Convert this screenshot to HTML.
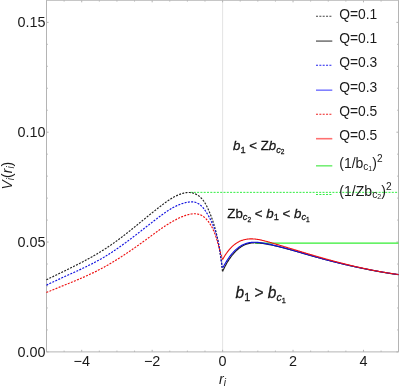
<!DOCTYPE html>
<html><head><meta charset="utf-8"><title>plot</title>
<style>
html,body{margin:0;padding:0;background:#fff;}
body{width:399px;height:387px;overflow:hidden;}
svg{display:block;will-change:transform;}
text{font-family:"Liberation Sans",sans-serif;fill:#1a1a1a;}
.it{font-style:italic;}
.an{stroke:#111;stroke-width:0.26px;}
</style></head><body>
<svg width="399" height="387" viewBox="0 0 399 387">
<rect width="399" height="387" fill="#fff"/>

<line x1="222.6" y1="0.25" x2="222.6" y2="351.9" stroke="#e0e0e0" stroke-width="0.9"/>
<g stroke="#b4b4b4" stroke-width="1" fill="none">
<path d="M46.5,0.25 L46.5,351.9 L398.5,351.9 L398.5,0.25 Z"/>
<line x1="46.50" y1="351.9" x2="46.50" y2="350.60"/>
<line x1="46.50" y1="0.25" x2="46.50" y2="1.55"/>
<line x1="64.11" y1="351.9" x2="64.11" y2="350.60"/>
<line x1="64.11" y1="0.25" x2="64.11" y2="1.55"/>
<line x1="81.72" y1="351.9" x2="81.72" y2="349.80"/>
<line x1="81.72" y1="0.25" x2="81.72" y2="2.35"/>
<line x1="99.33" y1="351.9" x2="99.33" y2="350.60"/>
<line x1="99.33" y1="0.25" x2="99.33" y2="1.55"/>
<line x1="116.94" y1="351.9" x2="116.94" y2="350.60"/>
<line x1="116.94" y1="0.25" x2="116.94" y2="1.55"/>
<line x1="134.55" y1="351.9" x2="134.55" y2="350.60"/>
<line x1="134.55" y1="0.25" x2="134.55" y2="1.55"/>
<line x1="152.16" y1="351.9" x2="152.16" y2="349.80"/>
<line x1="152.16" y1="0.25" x2="152.16" y2="2.35"/>
<line x1="169.77" y1="351.9" x2="169.77" y2="350.60"/>
<line x1="169.77" y1="0.25" x2="169.77" y2="1.55"/>
<line x1="187.38" y1="351.9" x2="187.38" y2="350.60"/>
<line x1="187.38" y1="0.25" x2="187.38" y2="1.55"/>
<line x1="204.99" y1="351.9" x2="204.99" y2="350.60"/>
<line x1="204.99" y1="0.25" x2="204.99" y2="1.55"/>
<line x1="222.60" y1="351.9" x2="222.60" y2="349.80"/>
<line x1="222.60" y1="0.25" x2="222.60" y2="2.35"/>
<line x1="240.21" y1="351.9" x2="240.21" y2="350.60"/>
<line x1="240.21" y1="0.25" x2="240.21" y2="1.55"/>
<line x1="257.82" y1="351.9" x2="257.82" y2="350.60"/>
<line x1="257.82" y1="0.25" x2="257.82" y2="1.55"/>
<line x1="275.43" y1="351.9" x2="275.43" y2="350.60"/>
<line x1="275.43" y1="0.25" x2="275.43" y2="1.55"/>
<line x1="293.04" y1="351.9" x2="293.04" y2="349.80"/>
<line x1="293.04" y1="0.25" x2="293.04" y2="2.35"/>
<line x1="310.65" y1="351.9" x2="310.65" y2="350.60"/>
<line x1="310.65" y1="0.25" x2="310.65" y2="1.55"/>
<line x1="328.26" y1="351.9" x2="328.26" y2="350.60"/>
<line x1="328.26" y1="0.25" x2="328.26" y2="1.55"/>
<line x1="345.87" y1="351.9" x2="345.87" y2="350.60"/>
<line x1="345.87" y1="0.25" x2="345.87" y2="1.55"/>
<line x1="363.48" y1="351.9" x2="363.48" y2="349.80"/>
<line x1="363.48" y1="0.25" x2="363.48" y2="2.35"/>
<line x1="381.09" y1="351.9" x2="381.09" y2="350.60"/>
<line x1="381.09" y1="0.25" x2="381.09" y2="1.55"/>
<line x1="398.70" y1="351.9" x2="398.70" y2="350.60"/>
<line x1="398.70" y1="0.25" x2="398.70" y2="1.55"/>
<line x1="46.5" y1="351.90" x2="48.60" y2="351.90"/>
<line x1="398.5" y1="351.90" x2="396.40" y2="351.90"/>
<line x1="46.5" y1="329.93" x2="47.80" y2="329.93"/>
<line x1="398.5" y1="329.93" x2="397.20" y2="329.93"/>
<line x1="46.5" y1="307.96" x2="47.80" y2="307.96"/>
<line x1="398.5" y1="307.96" x2="397.20" y2="307.96"/>
<line x1="46.5" y1="285.99" x2="47.80" y2="285.99"/>
<line x1="398.5" y1="285.99" x2="397.20" y2="285.99"/>
<line x1="46.5" y1="264.02" x2="47.80" y2="264.02"/>
<line x1="398.5" y1="264.02" x2="397.20" y2="264.02"/>
<line x1="46.5" y1="242.05" x2="48.60" y2="242.05"/>
<line x1="398.5" y1="242.05" x2="396.40" y2="242.05"/>
<line x1="46.5" y1="220.08" x2="47.80" y2="220.08"/>
<line x1="398.5" y1="220.08" x2="397.20" y2="220.08"/>
<line x1="46.5" y1="198.11" x2="47.80" y2="198.11"/>
<line x1="398.5" y1="198.11" x2="397.20" y2="198.11"/>
<line x1="46.5" y1="176.14" x2="47.80" y2="176.14"/>
<line x1="398.5" y1="176.14" x2="397.20" y2="176.14"/>
<line x1="46.5" y1="154.17" x2="47.80" y2="154.17"/>
<line x1="398.5" y1="154.17" x2="397.20" y2="154.17"/>
<line x1="46.5" y1="132.20" x2="48.60" y2="132.20"/>
<line x1="398.5" y1="132.20" x2="396.40" y2="132.20"/>
<line x1="46.5" y1="110.23" x2="47.80" y2="110.23"/>
<line x1="398.5" y1="110.23" x2="397.20" y2="110.23"/>
<line x1="46.5" y1="88.26" x2="47.80" y2="88.26"/>
<line x1="398.5" y1="88.26" x2="397.20" y2="88.26"/>
<line x1="46.5" y1="66.29" x2="47.80" y2="66.29"/>
<line x1="398.5" y1="66.29" x2="397.20" y2="66.29"/>
<line x1="46.5" y1="44.32" x2="47.80" y2="44.32"/>
<line x1="398.5" y1="44.32" x2="397.20" y2="44.32"/>
<line x1="46.5" y1="22.35" x2="48.60" y2="22.35"/>
<line x1="398.5" y1="22.35" x2="396.40" y2="22.35"/>
</g>
<text x="45.5" y="357.00" font-size="14.4" text-anchor="end">0.00</text>
<text x="45.5" y="247.15" font-size="14.4" text-anchor="end">0.05</text>
<text x="45.5" y="137.30" font-size="14.4" text-anchor="end">0.10</text>
<text x="45.5" y="27.45" font-size="14.4" text-anchor="end">0.15</text>
<text x="81.72" y="365.8" font-size="14.4" text-anchor="middle">−4</text>
<text x="152.16" y="365.8" font-size="14.4" text-anchor="middle">−2</text>
<text x="222.60" y="365.8" font-size="14.4" text-anchor="middle">0</text>
<text x="293.04" y="365.8" font-size="14.4" text-anchor="middle">2</text>
<text x="363.48" y="365.8" font-size="14.4" text-anchor="middle">4</text>
<line x1="255" y1="243.15" x2="398.5" y2="243.15" stroke="#33ee33" stroke-width="1.3"/>
<line x1="190.5" y1="192.35" x2="398.5" y2="192.35" stroke="#30ee40" stroke-width="1.0" stroke-dasharray="2,1.3"/>
<g fill="none" stroke-width="1.15" stroke-linejoin="round">
<path d="M46.40,279.79 L46.98,279.50 L47.56,279.21 L48.14,278.93 L48.73,278.65 L49.31,278.36 L49.89,278.08 L50.48,277.79 L51.06,277.51 L51.64,277.22 L52.23,276.94 L52.81,276.66 L53.40,276.37 L53.98,276.09 L54.57,275.81 L55.15,275.52 L55.74,275.24 L56.32,274.96 L56.91,274.67 L57.49,274.39 L58.08,274.11 L58.67,273.82 L59.25,273.54 L59.84,273.25 L60.43,272.97 L61.01,272.69 L61.60,272.40 L62.19,272.12 L62.77,271.83 L63.36,271.55 L63.95,271.26 L64.53,270.98 L65.12,270.69 L65.71,270.40 L66.29,270.12 L66.88,269.83 L67.46,269.54 L68.05,269.26 L68.64,268.97 L69.22,268.68 L69.81,268.39 L70.39,268.10 L70.98,267.81 L71.56,267.52 L72.15,267.23 L72.73,266.94 L73.32,266.65 L73.90,266.35 L74.49,266.06 L75.07,265.77 L75.65,265.47 L76.23,265.18 L76.82,264.88 L77.40,264.59 L77.98,264.29 L78.56,263.99 L79.14,263.69 L79.72,263.39 L80.30,263.09 L80.88,262.79 L81.46,262.49 L82.04,262.19 L82.62,261.89 L83.20,261.58 L83.77,261.28 L84.35,260.97 L84.93,260.67 L85.50,260.36 L86.08,260.05 L86.65,259.74 L87.23,259.43 L87.80,259.12 L88.37,258.80 L88.94,258.49 L89.51,258.18 L90.09,257.86 L90.65,257.54 L91.22,257.23 L91.79,256.91 L92.36,256.59 L92.93,256.26 L93.49,255.94 L94.06,255.62 L94.62,255.29 L95.19,254.97 L95.75,254.64 L96.31,254.31 L96.87,253.98 L97.43,253.65 L97.99,253.32 L98.55,252.98 L99.11,252.65 L99.66,252.31 L100.22,251.97 L100.77,251.63 L101.33,251.29 L101.88,250.95 L102.43,250.60 L102.98,250.26 L103.53,249.91 L104.08,249.56 L104.63,249.21 L105.17,248.86 L105.72,248.51 L106.26,248.15 L106.81,247.79 L107.35,247.44 L107.89,247.08 L108.43,246.71 L108.97,246.35 L109.50,245.99 L110.04,245.62 L110.58,245.25 L111.11,244.88 L111.64,244.51 L112.18,244.14 L112.71,243.77 L113.24,243.39 L113.77,243.02 L114.30,242.64 L114.82,242.26 L115.35,241.88 L115.88,241.50 L116.40,241.12 L116.93,240.74 L117.45,240.35 L117.97,239.97 L118.49,239.58 L119.02,239.19 L119.54,238.80 L120.06,238.41 L120.58,238.02 L121.09,237.63 L121.61,237.24 L122.13,236.84 L122.65,236.45 L123.16,236.05 L123.68,235.65 L124.19,235.26 L124.71,234.86 L125.22,234.46 L125.73,234.06 L126.25,233.66 L126.76,233.26 L127.27,232.85 L127.78,232.45 L128.29,232.05 L128.80,231.64 L129.31,231.24 L129.82,230.83 L130.33,230.43 L130.84,230.02 L131.35,229.61 L131.86,229.21 L132.37,228.80 L132.87,228.39 L133.38,227.98 L133.89,227.57 L134.40,227.16 L134.90,226.75 L135.41,226.34 L135.92,225.93 L136.42,225.52 L136.93,225.11 L137.43,224.70 L137.94,224.29 L138.45,223.87 L138.95,223.46 L139.46,223.05 L139.96,222.64 L140.47,222.23 L140.97,221.81 L141.48,221.40 L141.99,220.99 L142.49,220.58 L143.00,220.16 L143.50,219.75 L144.01,219.34 L144.52,218.93 L145.02,218.51 L145.53,218.10 L146.03,217.69 L146.54,217.28 L147.05,216.87 L147.56,216.46 L148.06,216.05 L148.57,215.63 L149.08,215.22 L149.59,214.81 L150.10,214.40 L150.60,214.00 L151.11,213.59 L151.62,213.18 L152.13,212.77 L152.64,212.36 L153.15,211.96 L153.67,211.55 L154.18,211.14 L154.69,210.74 L155.20,210.33 L155.72,209.93 L156.23,209.53 L156.74,209.12 L157.26,208.72 L157.77,208.32 L158.29,207.92 L158.81,207.52 L159.32,207.12 L159.84,206.72 L160.36,206.32 L160.88,205.93 L161.40,205.53 L161.92,205.14 L162.44,204.74 L162.96,204.35 L163.48,203.96 L164.01,203.57 L164.53,203.18 L165.06,202.79 L165.59,202.41 L166.12,202.03 L166.65,201.65 L167.18,201.27 L167.72,200.90 L168.26,200.53 L168.80,200.17 L169.34,199.81 L169.89,199.45 L170.44,199.10 L170.99,198.76 L171.55,198.42 L172.11,198.08 L172.67,197.75 L173.24,197.43 L173.81,197.11 L174.39,196.80 L174.97,196.50 L175.55,196.20 L176.14,195.91 L176.73,195.63 L177.33,195.36 L177.94,195.09 L178.55,194.84 L179.16,194.59 L179.78,194.35 L180.40,194.12 L181.03,193.91 L181.66,193.70 L182.30,193.51 L182.93,193.34 L183.57,193.17 L184.21,193.03 L184.85,192.90 L185.49,192.78 L186.13,192.69 L186.77,192.61 L187.41,192.55 L188.04,192.52 L188.68,192.50 L189.31,192.51 L189.93,192.54 L190.56,192.59 L191.17,192.67 L191.79,192.77 L192.40,192.90 L193.00,193.04 L193.59,193.21 L194.18,193.41 L194.76,193.62 L195.34,193.86 L195.90,194.12 L196.46,194.40 L197.00,194.70 L197.54,195.02 L198.06,195.36 L198.58,195.72 L199.08,196.10 L199.57,196.50 L200.05,196.92 L200.52,197.35 L200.98,197.80 L201.43,198.27 L201.86,198.74 L202.28,199.24 L202.69,199.74 L203.10,200.25 L203.49,200.78 L203.87,201.31 L204.23,201.86 L204.59,202.41 L204.94,202.96 L205.28,203.53 L205.62,204.10 L205.94,204.68 L206.26,205.26 L206.56,205.85 L206.87,206.44 L207.16,207.04 L207.45,207.64 L207.74,208.24 L208.02,208.84 L208.29,209.45 L208.56,210.05 L208.83,210.66 L209.10,211.27 L209.36,211.88 L209.61,212.49 L209.86,213.10 L210.11,213.71 L210.36,214.32 L210.60,214.93 L210.84,215.54 L211.07,216.15 L211.31,216.77 L211.53,217.38 L211.76,218.00 L211.98,218.61 L212.20,219.23 L212.41,219.84 L212.63,220.46 L212.84,221.08 L213.04,221.70 L213.24,222.32 L213.44,222.94 L213.64,223.56 L213.83,224.18 L214.02,224.80 L214.21,225.42 L214.40,226.04 L214.58,226.67 L214.76,227.29 L214.93,227.91 L215.11,228.54 L215.28,229.17 L215.45,229.79 L215.61,230.42 L215.78,231.04 L215.94,231.67 L216.10,232.30 L216.25,232.93 L216.41,233.56 L216.56,234.19 L216.70,234.82 L216.85,235.45 L217.00,236.08 L217.14,236.71 L217.28,237.34 L217.41,237.98 L217.55,238.61 L217.68,239.24 L217.81,239.88 L217.94,240.51 L218.07,241.15 L218.20,241.78 L218.32,242.42 L218.44,243.05 L218.56,243.69 L218.68,244.33 L218.79,244.96 L218.91,245.60 L219.02,246.24 L219.13,246.88 L219.24,247.52 L219.35,248.16 L219.46,248.80 L219.56,249.44 L219.66,250.08 L219.77,250.72 L219.87,251.36 L219.97,252.00 L220.06,252.64 L220.16,253.29 L220.26,253.93 L220.35,254.57 L220.44,255.22 L220.54,255.86 L220.63,256.50 L220.72,257.15 L220.80,257.79 L220.89,258.44 L220.98,259.08 L221.07,259.73 L221.15,260.38 L221.23,261.02 L221.32,261.67 L221.40,262.32 L221.48,262.96 L221.56,263.61 L221.65,264.26 L221.73,264.91 L221.80,265.55 L221.88,266.20 L221.96,266.85 L222.04,267.50 L222.12,268.15 L222.19,268.80 L222.27,269.45 L222.35,270.10 L222.42,270.75 L222.50,271.40" stroke="#222" stroke-dasharray="2,1.3"/>
<path d="M46.40,285.18 L46.95,284.91 L47.50,284.64 L48.04,284.37 L48.59,284.10 L49.14,283.83 L49.69,283.57 L50.25,283.30 L50.80,283.03 L51.35,282.77 L51.91,282.51 L52.46,282.24 L53.01,281.98 L53.57,281.72 L54.13,281.46 L54.68,281.20 L55.24,280.94 L55.80,280.68 L56.35,280.42 L56.91,280.16 L57.47,279.90 L58.03,279.64 L58.59,279.39 L59.15,279.13 L59.71,278.87 L60.27,278.62 L60.83,278.36 L61.39,278.11 L61.96,277.85 L62.52,277.59 L63.08,277.34 L63.64,277.08 L64.21,276.83 L64.77,276.57 L65.33,276.32 L65.89,276.06 L66.46,275.81 L67.02,275.55 L67.58,275.30 L68.15,275.04 L68.71,274.79 L69.28,274.53 L69.84,274.28 L70.40,274.02 L70.97,273.77 L71.53,273.51 L72.09,273.26 L72.66,273.00 L73.22,272.74 L73.78,272.49 L74.35,272.23 L74.91,271.97 L75.47,271.71 L76.04,271.45 L76.60,271.20 L77.16,270.94 L77.72,270.68 L78.28,270.42 L78.85,270.15 L79.41,269.89 L79.97,269.63 L80.53,269.37 L81.09,269.11 L81.65,268.84 L82.21,268.58 L82.77,268.31 L83.33,268.05 L83.88,267.78 L84.44,267.51 L85.00,267.24 L85.55,266.97 L86.11,266.70 L86.67,266.43 L87.22,266.16 L87.78,265.89 L88.33,265.61 L88.88,265.34 L89.44,265.06 L89.99,264.79 L90.54,264.51 L91.09,264.23 L91.64,263.95 L92.19,263.67 L92.74,263.38 L93.28,263.10 L93.83,262.82 L94.38,262.53 L94.92,262.24 L95.47,261.95 L96.01,261.66 L96.55,261.37 L97.09,261.08 L97.63,260.78 L98.17,260.49 L98.71,260.19 L99.25,259.89 L99.79,259.59 L100.32,259.29 L100.86,258.99 L101.39,258.68 L101.92,258.38 L102.46,258.07 L102.99,257.76 L103.52,257.45 L104.04,257.13 L104.57,256.82 L105.10,256.50 L105.62,256.19 L106.15,255.87 L106.67,255.55 L107.19,255.22 L107.71,254.90 L108.23,254.57 L108.75,254.25 L109.27,253.92 L109.79,253.59 L110.30,253.26 L110.82,252.93 L111.33,252.59 L111.85,252.26 L112.36,251.92 L112.87,251.59 L113.38,251.25 L113.89,250.91 L114.40,250.57 L114.91,250.22 L115.42,249.88 L115.93,249.53 L116.44,249.19 L116.94,248.84 L117.45,248.49 L117.95,248.14 L118.45,247.79 L118.96,247.44 L119.46,247.09 L119.96,246.74 L120.46,246.38 L120.96,246.03 L121.46,245.67 L121.96,245.31 L122.46,244.95 L122.96,244.59 L123.46,244.23 L123.95,243.87 L124.45,243.51 L124.95,243.15 L125.44,242.78 L125.94,242.42 L126.43,242.05 L126.93,241.69 L127.42,241.32 L127.92,240.95 L128.41,240.59 L128.90,240.22 L129.39,239.85 L129.89,239.48 L130.38,239.11 L130.87,238.74 L131.36,238.36 L131.85,237.99 L132.34,237.62 L132.83,237.24 L133.32,236.87 L133.81,236.50 L134.30,236.12 L134.79,235.75 L135.28,235.37 L135.77,234.99 L136.26,234.62 L136.74,234.24 L137.23,233.86 L137.72,233.48 L138.21,233.11 L138.70,232.73 L139.18,232.35 L139.67,231.97 L140.16,231.59 L140.65,231.21 L141.14,230.83 L141.62,230.45 L142.11,230.07 L142.60,229.69 L143.09,229.31 L143.58,228.93 L144.06,228.55 L144.55,228.17 L145.04,227.79 L145.53,227.41 L146.02,227.03 L146.50,226.65 L146.99,226.27 L147.48,225.89 L147.97,225.50 L148.46,225.12 L148.95,224.74 L149.44,224.36 L149.93,223.98 L150.42,223.60 L150.91,223.22 L151.40,222.84 L151.89,222.46 L152.38,222.09 L152.87,221.71 L153.36,221.33 L153.86,220.95 L154.35,220.57 L154.84,220.19 L155.34,219.82 L155.83,219.44 L156.32,219.06 L156.82,218.69 L157.31,218.31 L157.81,217.94 L158.30,217.56 L158.80,217.19 L159.30,216.81 L159.80,216.44 L160.29,216.07 L160.79,215.70 L161.29,215.33 L161.79,214.96 L162.29,214.59 L162.80,214.23 L163.30,213.86 L163.81,213.50 L164.31,213.14 L164.82,212.79 L165.33,212.43 L165.84,212.08 L166.35,211.73 L166.86,211.39 L167.37,211.05 L167.89,210.71 L168.41,210.37 L168.93,210.04 L169.45,209.71 L169.97,209.39 L170.50,209.07 L171.02,208.76 L171.55,208.45 L172.08,208.14 L172.61,207.84 L173.15,207.54 L173.69,207.25 L174.23,206.97 L174.77,206.69 L175.32,206.42 L175.86,206.15 L176.41,205.89 L176.97,205.63 L177.52,205.38 L178.08,205.14 L178.64,204.90 L179.21,204.67 L179.77,204.45 L180.34,204.24 L180.92,204.03 L181.49,203.83 L182.07,203.63 L182.66,203.45 L183.24,203.27 L183.83,203.10 L184.43,202.94 L185.02,202.79 L185.62,202.65 L186.23,202.51 L186.84,202.39 L187.45,202.27 L188.06,202.17 L188.68,202.08 L189.29,202.00 L189.91,201.94 L190.52,201.90 L191.13,201.87 L191.74,201.86 L192.34,201.88 L192.94,201.91 L193.53,201.97 L194.12,202.06 L194.70,202.17 L195.27,202.31 L195.83,202.47 L196.38,202.66 L196.92,202.88 L197.46,203.12 L197.98,203.39 L198.49,203.68 L198.99,203.99 L199.48,204.32 L199.96,204.68 L200.42,205.06 L200.88,205.46 L201.32,205.87 L201.76,206.31 L202.18,206.75 L202.60,207.22 L203.01,207.69 L203.41,208.18 L203.80,208.68 L204.18,209.18 L204.56,209.70 L204.93,210.21 L205.29,210.74 L205.65,211.27 L206.00,211.79 L206.34,212.33 L206.68,212.86 L207.02,213.39 L207.35,213.93 L207.67,214.47 L207.99,215.01 L208.31,215.55 L208.62,216.09 L208.92,216.64 L209.22,217.18 L209.51,217.73 L209.80,218.28 L210.09,218.83 L210.37,219.39 L210.64,219.94 L210.91,220.50 L211.18,221.05 L211.44,221.61 L211.70,222.17 L211.95,222.73 L212.20,223.30 L212.44,223.86 L212.68,224.43 L212.92,225.00 L213.15,225.56 L213.37,226.13 L213.60,226.71 L213.82,227.28 L214.03,227.85 L214.24,228.43 L214.45,229.00 L214.65,229.58 L214.85,230.16 L215.05,230.74 L215.24,231.32 L215.43,231.90 L215.61,232.49 L215.80,233.07 L215.97,233.66 L216.15,234.24 L216.32,234.83 L216.49,235.42 L216.66,236.01 L216.82,236.60 L216.98,237.19 L217.13,237.78 L217.29,238.37 L217.44,238.97 L217.58,239.56 L217.73,240.16 L217.87,240.75 L218.01,241.35 L218.14,241.95 L218.28,242.55 L218.41,243.15 L218.54,243.75 L218.66,244.35 L218.79,244.95 L218.91,245.55 L219.03,246.16 L219.15,246.76 L219.26,247.36 L219.37,247.97 L219.49,248.57 L219.59,249.18 L219.70,249.79 L219.81,250.39 L219.91,251.00 L220.01,251.61 L220.11,252.21 L220.21,252.82 L220.30,253.43 L220.40,254.04 L220.49,254.65 L220.58,255.26 L220.67,255.87 L220.76,256.48 L220.85,257.09 L220.94,257.70 L221.02,258.32 L221.11,258.93 L221.19,259.54 L221.27,260.15 L221.35,260.76 L221.43,261.38 L221.51,261.99 L221.59,262.60 L221.67,263.21 L221.75,263.82 L221.82,264.44 L221.90,265.05 L221.98,265.66 L222.05,266.28 L222.13,266.89 L222.20,267.50" stroke="#1010e0" stroke-dasharray="2,1.3"/>
<path d="M46.40,292.48 L46.92,292.26 L47.45,292.04 L47.97,291.82 L48.50,291.61 L49.02,291.39 L49.54,291.17 L50.07,290.96 L50.59,290.74 L51.12,290.53 L51.64,290.31 L52.17,290.10 L52.70,289.88 L53.22,289.67 L53.75,289.45 L54.27,289.24 L54.80,289.03 L55.33,288.81 L55.85,288.60 L56.38,288.39 L56.91,288.18 L57.43,287.96 L57.96,287.75 L58.49,287.54 L59.01,287.33 L59.54,287.12 L60.07,286.90 L60.59,286.69 L61.12,286.48 L61.65,286.27 L62.17,286.06 L62.70,285.85 L63.23,285.63 L63.75,285.42 L64.28,285.21 L64.81,285.00 L65.33,284.79 L65.86,284.58 L66.39,284.36 L66.91,284.15 L67.44,283.94 L67.97,283.72 L68.49,283.51 L69.02,283.30 L69.54,283.08 L70.07,282.87 L70.59,282.66 L71.12,282.44 L71.64,282.23 L72.17,282.01 L72.69,281.80 L73.22,281.58 L73.74,281.36 L74.27,281.15 L74.79,280.93 L75.32,280.71 L75.84,280.49 L76.36,280.27 L76.88,280.05 L77.41,279.83 L77.93,279.61 L78.45,279.39 L78.97,279.17 L79.50,278.95 L80.02,278.73 L80.54,278.50 L81.06,278.28 L81.58,278.05 L82.10,277.83 L82.62,277.60 L83.14,277.37 L83.66,277.14 L84.17,276.92 L84.69,276.69 L85.21,276.45 L85.73,276.22 L86.24,275.99 L86.76,275.76 L87.28,275.52 L87.79,275.29 L88.31,275.05 L88.82,274.82 L89.34,274.58 L89.85,274.34 L90.36,274.10 L90.88,273.86 L91.39,273.62 L91.90,273.37 L92.41,273.13 L92.92,272.88 L93.43,272.64 L93.94,272.39 L94.45,272.14 L94.96,271.89 L95.47,271.64 L95.97,271.39 L96.48,271.13 L96.99,270.88 L97.49,270.62 L98.00,270.36 L98.50,270.10 L99.01,269.84 L99.51,269.58 L100.01,269.32 L100.51,269.06 L101.01,268.79 L101.51,268.52 L102.01,268.25 L102.51,267.99 L103.01,267.72 L103.51,267.44 L104.01,267.17 L104.50,266.90 L105.00,266.62 L105.50,266.34 L105.99,266.07 L106.49,265.79 L106.98,265.51 L107.47,265.23 L107.97,264.94 L108.46,264.66 L108.95,264.38 L109.44,264.09 L109.93,263.80 L110.42,263.52 L110.91,263.23 L111.40,262.94 L111.89,262.65 L112.38,262.35 L112.86,262.06 L113.35,261.77 L113.84,261.47 L114.32,261.18 L114.81,260.88 L115.29,260.58 L115.77,260.28 L116.26,259.98 L116.74,259.68 L117.22,259.38 L117.71,259.08 L118.19,258.78 L118.67,258.47 L119.15,258.17 L119.63,257.86 L120.11,257.56 L120.59,257.25 L121.07,256.94 L121.54,256.63 L122.02,256.32 L122.50,256.01 L122.97,255.70 L123.45,255.39 L123.93,255.08 L124.40,254.76 L124.88,254.45 L125.35,254.14 L125.82,253.82 L126.30,253.51 L126.77,253.19 L127.24,252.87 L127.72,252.55 L128.19,252.24 L128.66,251.92 L129.13,251.60 L129.60,251.28 L130.07,250.96 L130.54,250.63 L131.01,250.31 L131.48,249.99 L131.95,249.67 L132.41,249.34 L132.88,249.02 L133.35,248.69 L133.81,248.37 L134.28,248.04 L134.75,247.72 L135.21,247.39 L135.68,247.07 L136.14,246.74 L136.61,246.41 L137.07,246.08 L137.53,245.76 L138.00,245.43 L138.46,245.10 L138.92,244.77 L139.38,244.44 L139.85,244.11 L140.31,243.78 L140.77,243.45 L141.23,243.12 L141.69,242.79 L142.15,242.46 L142.61,242.12 L143.07,241.79 L143.53,241.46 L143.99,241.13 L144.45,240.80 L144.90,240.46 L145.36,240.13 L145.82,239.80 L146.28,239.47 L146.73,239.13 L147.19,238.80 L147.65,238.47 L148.10,238.13 L148.56,237.80 L149.01,237.47 L149.47,237.13 L149.92,236.80 L150.38,236.47 L150.83,236.13 L151.29,235.80 L151.74,235.46 L152.20,235.13 L152.65,234.80 L153.10,234.46 L153.56,234.13 L154.01,233.80 L154.46,233.47 L154.92,233.14 L155.37,232.80 L155.83,232.47 L156.28,232.14 L156.74,231.81 L157.20,231.48 L157.65,231.16 L158.11,230.83 L158.57,230.50 L159.02,230.18 L159.48,229.85 L159.94,229.53 L160.40,229.20 L160.87,228.88 L161.33,228.56 L161.79,228.24 L162.26,227.92 L162.72,227.60 L163.19,227.28 L163.66,226.97 L164.12,226.65 L164.60,226.34 L165.07,226.03 L165.54,225.72 L166.01,225.41 L166.49,225.11 L166.97,224.80 L167.45,224.50 L167.93,224.20 L168.41,223.90 L168.90,223.60 L169.38,223.30 L169.87,223.01 L170.36,222.71 L170.85,222.42 L171.35,222.13 L171.84,221.85 L172.34,221.56 L172.84,221.28 L173.34,221.00 L173.85,220.72 L174.35,220.45 L174.86,220.17 L175.38,219.90 L175.89,219.64 L176.41,219.37 L176.93,219.11 L177.45,218.85 L177.97,218.59 L178.50,218.33 L179.03,218.08 L179.57,217.83 L180.10,217.58 L180.64,217.34 L181.18,217.10 L181.72,216.87 L182.26,216.64 L182.81,216.42 L183.35,216.21 L183.90,216.00 L184.45,215.79 L185.00,215.60 L185.55,215.41 L186.10,215.23 L186.65,215.06 L187.20,214.90 L187.75,214.74 L188.30,214.60 L188.85,214.47 L189.39,214.34 L189.94,214.23 L190.49,214.13 L191.03,214.04 L191.58,213.96 L192.12,213.90 L192.66,213.84 L193.20,213.81 L193.73,213.78 L194.27,213.77 L194.80,213.77 L195.32,213.79 L195.85,213.82 L196.37,213.87 L196.89,213.94 L197.41,214.02 L197.92,214.12 L198.43,214.23 L198.93,214.37 L199.43,214.52 L199.92,214.69 L200.41,214.88 L200.90,215.09 L201.38,215.32 L201.86,215.57 L202.33,215.83 L202.79,216.12 L203.25,216.44 L203.70,216.77 L204.15,217.12 L204.59,217.48 L205.03,217.87 L205.45,218.27 L205.87,218.68 L206.29,219.11 L206.69,219.55 L207.09,220.00 L207.48,220.46 L207.86,220.93 L208.24,221.40 L208.60,221.88 L208.96,222.37 L209.30,222.86 L209.64,223.35 L209.97,223.85 L210.29,224.34 L210.60,224.84 L210.90,225.34 L211.19,225.84 L211.47,226.34 L211.75,226.85 L212.02,227.35 L212.28,227.86 L212.54,228.37 L212.78,228.88 L213.03,229.39 L213.26,229.90 L213.49,230.41 L213.71,230.93 L213.93,231.45 L214.14,231.96 L214.35,232.48 L214.56,233.00 L214.75,233.53 L214.95,234.05 L215.14,234.58 L215.33,235.10 L215.51,235.63 L215.70,236.16 L215.87,236.69 L216.05,237.23 L216.23,237.76 L216.40,238.29 L216.57,238.83 L216.73,239.37 L216.90,239.91 L217.06,240.45 L217.22,240.99 L217.38,241.53 L217.54,242.07 L217.70,242.61 L217.85,243.15 L218.01,243.70 L218.16,244.24 L218.32,244.79 L218.47,245.33 L218.62,245.88 L218.77,246.43 L218.92,246.97 L219.07,247.52 L219.22,248.07 L219.37,248.61 L219.52,249.16 L219.67,249.71 L219.83,250.26 L219.98,250.80 L220.13,251.35 L220.29,251.90 L220.44,252.44 L220.60,252.99 L220.75,253.54 L220.91,254.08 L221.07,254.63 L221.23,255.17 L221.40,255.72 L221.56,256.26 L221.73,256.80 L221.90,257.34 L222.07,257.88 L222.24,258.42 L222.42,258.96 L222.60,259.50" stroke="#ee1010" stroke-dasharray="2,1.3"/>
<path d="M222.60,271.40 L223.19,270.12 L223.78,268.89 L224.36,267.69 L224.95,266.54 L225.54,265.43 L226.13,264.36 L226.72,263.32 L227.31,262.32 L227.89,261.36 L228.48,260.43 L229.07,259.53 L229.66,258.66 L230.25,257.82 L230.84,257.01 L231.42,256.23 L232.01,255.47 L232.60,254.74 L233.19,254.03 L233.78,253.35 L234.37,252.69 L234.95,252.06 L235.54,251.45 L236.13,250.87 L236.72,250.30 L237.31,249.77 L237.90,249.25 L238.48,248.76 L239.07,248.29 L239.66,247.84 L240.25,247.42 L240.84,247.01 L241.43,246.63 L242.01,246.27 L242.60,245.93 L243.19,245.61 L243.78,245.31 L244.37,245.03 L244.96,244.77 L245.54,244.53 L246.13,244.31 L246.72,244.10 L247.31,243.91 L247.90,243.74 L248.48,243.58 L249.07,243.44 L249.66,243.32 L250.25,243.21 L250.84,243.11 L251.43,243.03 L252.01,242.96 L252.60,242.90 L253.19,242.86 L253.78,242.82 L254.37,242.80 L254.96,242.79 L255.54,242.79 L256.13,242.80 L256.72,242.82 L257.31,242.85 L257.90,242.89 L258.49,242.93 L259.07,242.99 L259.66,243.05 L260.25,243.11 L260.84,243.18 L261.43,243.26 L262.02,243.34 L262.60,243.43 L263.19,243.52 L263.78,243.62 L264.37,243.71 L264.96,243.82 L265.55,243.92 L266.13,244.02 L266.72,244.13 L267.31,244.24 L267.90,244.35 L268.49,244.46 L269.08,244.58 L269.66,244.69 L270.25,244.81 L270.84,244.93 L271.43,245.06 L272.02,245.18 L272.61,245.31 L273.19,245.43 L273.78,245.56 L274.37,245.69 L274.96,245.83 L275.55,245.96 L276.13,246.10 L276.72,246.23 L277.31,246.37 L277.90,246.51 L278.49,246.65 L279.08,246.79 L279.66,246.94 L280.25,247.08 L280.84,247.23 L281.43,247.38 L282.02,247.53 L282.61,247.68 L283.19,247.83 L283.78,247.98 L284.37,248.13 L284.96,248.29 L285.55,248.44 L286.14,248.60 L286.72,248.76 L287.31,248.92 L287.90,249.08 L288.49,249.24 L289.08,249.40 L289.67,249.56 L290.25,249.72 L290.84,249.88 L291.43,250.05 L292.02,250.21 L292.61,250.38 L293.20,250.54 L293.78,250.71 L294.37,250.87 L294.96,251.04 L295.55,251.21 L296.14,251.38 L296.73,251.54 L297.31,251.71 L297.90,251.88 L298.49,252.05 L299.08,252.22 L299.67,252.39 L300.25,252.56 L300.84,252.73 L301.43,252.90 L302.02,253.07 L302.61,253.24 L303.20,253.41 L303.78,253.58 L304.37,253.75 L304.96,253.92 L305.55,254.09 L306.14,254.26 L306.73,254.43 L307.31,254.59 L307.90,254.76 L308.49,254.93 L309.08,255.10 L309.67,255.27 L310.26,255.43 L310.84,255.60 L311.43,255.77 L312.02,255.93 L312.61,256.10 L313.20,256.27 L313.79,256.43 L314.37,256.59 L314.96,256.76 L315.55,256.92 L316.14,257.08 L316.73,257.25 L317.32,257.41 L317.90,257.57 L318.49,257.73 L319.08,257.89 L319.67,258.05 L320.26,258.21 L320.85,258.37 L321.43,258.53 L322.02,258.69 L322.61,258.85 L323.20,259.01 L323.79,259.16 L324.37,259.32 L324.96,259.48 L325.55,259.63 L326.14,259.79 L326.73,259.94 L327.32,260.10 L327.90,260.25 L328.49,260.40 L329.08,260.56 L329.67,260.71 L330.26,260.86 L330.85,261.01 L331.43,261.16 L332.02,261.31 L332.61,261.46 L333.20,261.61 L333.79,261.76 L334.38,261.91 L334.96,262.06 L335.55,262.21 L336.14,262.35 L336.73,262.50 L337.32,262.65 L337.91,262.79 L338.49,262.94 L339.08,263.08 L339.67,263.23 L340.26,263.37 L340.85,263.51 L341.44,263.66 L342.02,263.80 L342.61,263.94 L343.20,264.08 L343.79,264.22 L344.38,264.36 L344.97,264.50 L345.55,264.64 L346.14,264.78 L346.73,264.91 L347.32,265.05 L347.91,265.19 L348.49,265.32 L349.08,265.46 L349.67,265.59 L350.26,265.73 L350.85,265.86 L351.44,265.99 L352.02,266.13 L352.61,266.26 L353.20,266.39 L353.79,266.52 L354.38,266.65 L354.97,266.78 L355.55,266.91 L356.14,267.04 L356.73,267.17 L357.32,267.30 L357.91,267.42 L358.50,267.55 L359.08,267.68 L359.67,267.80 L360.26,267.93 L360.85,268.05 L361.44,268.17 L362.03,268.30 L362.61,268.42 L363.20,268.54 L363.79,268.66 L364.38,268.78 L364.97,268.90 L365.56,269.02 L366.14,269.14 L366.73,269.26 L367.32,269.38 L367.91,269.50 L368.50,269.61 L369.09,269.73 L369.67,269.84 L370.26,269.96 L370.85,270.07 L371.44,270.18 L372.03,270.30 L372.62,270.41 L373.20,270.52 L373.79,270.63 L374.38,270.74 L374.97,270.85 L375.56,270.96 L376.14,271.07 L376.73,271.18 L377.32,271.28 L377.91,271.39 L378.50,271.50 L379.09,271.60 L379.67,271.71 L380.26,271.81 L380.85,271.91 L381.44,272.02 L382.03,272.12 L382.62,272.22 L383.20,272.32 L383.79,272.42 L384.38,272.52 L384.97,272.62 L385.56,272.72 L386.15,272.81 L386.73,272.91 L387.32,273.01 L387.91,273.10 L388.50,273.20 L389.09,273.29 L389.68,273.38 L390.26,273.48 L390.85,273.57 L391.44,273.66 L392.03,273.75 L392.62,273.84 L393.21,273.93 L393.79,274.02 L394.38,274.10 L394.97,274.19 L395.56,274.28 L396.15,274.36 L396.74,274.45 L397.32,274.53 L397.91,274.62 L398.50,274.70" stroke="#222" stroke-width="1.15"/>
<path d="M223.00,267.50 L223.59,266.40 L224.17,265.33 L224.76,264.29 L225.35,263.28 L225.93,262.29 L226.52,261.34 L227.11,260.41 L227.70,259.51 L228.28,258.63 L228.87,257.78 L229.46,256.96 L230.04,256.17 L230.63,255.40 L231.22,254.66 L231.80,253.94 L232.39,253.25 L232.98,252.58 L233.57,251.94 L234.15,251.32 L234.74,250.72 L235.33,250.15 L235.91,249.60 L236.50,249.08 L237.09,248.57 L237.67,248.09 L238.26,247.64 L238.85,247.20 L239.43,246.79 L240.02,246.39 L240.61,246.02 L241.20,245.67 L241.78,245.34 L242.37,245.03 L242.96,244.74 L243.54,244.46 L244.13,244.21 L244.72,243.97 L245.30,243.75 L245.89,243.55 L246.48,243.36 L247.07,243.19 L247.65,243.04 L248.24,242.90 L248.83,242.77 L249.41,242.66 L250.00,242.56 L250.59,242.48 L251.17,242.41 L251.76,242.35 L252.35,242.31 L252.93,242.28 L253.52,242.25 L254.11,242.24 L254.70,242.24 L255.28,242.25 L255.87,242.27 L256.46,242.29 L257.04,242.33 L257.63,242.37 L258.22,242.42 L258.80,242.48 L259.39,242.55 L259.98,242.62 L260.57,242.70 L261.15,242.78 L261.74,242.87 L262.33,242.96 L262.91,243.06 L263.50,243.16 L264.09,243.26 L264.67,243.36 L265.26,243.47 L265.85,243.58 L266.43,243.70 L267.02,243.81 L267.61,243.93 L268.20,244.04 L268.78,244.16 L269.37,244.29 L269.96,244.41 L270.54,244.53 L271.13,244.66 L271.72,244.79 L272.30,244.92 L272.89,245.05 L273.48,245.19 L274.07,245.32 L274.65,245.46 L275.24,245.60 L275.83,245.74 L276.41,245.88 L277.00,246.02 L277.59,246.16 L278.17,246.31 L278.76,246.46 L279.35,246.60 L279.93,246.75 L280.52,246.90 L281.11,247.06 L281.70,247.21 L282.28,247.36 L282.87,247.52 L283.46,247.67 L284.04,247.83 L284.63,247.99 L285.22,248.15 L285.80,248.31 L286.39,248.47 L286.98,248.63 L287.57,248.79 L288.15,248.95 L288.74,249.12 L289.33,249.28 L289.91,249.45 L290.50,249.61 L291.09,249.78 L291.67,249.95 L292.26,250.12 L292.85,250.28 L293.43,250.45 L294.02,250.62 L294.61,250.79 L295.20,250.96 L295.78,251.13 L296.37,251.30 L296.96,251.47 L297.54,251.64 L298.13,251.82 L298.72,251.99 L299.30,252.16 L299.89,252.33 L300.48,252.50 L301.07,252.67 L301.65,252.85 L302.24,253.02 L302.83,253.19 L303.41,253.36 L304.00,253.53 L304.59,253.71 L305.17,253.88 L305.76,254.05 L306.35,254.22 L306.93,254.39 L307.52,254.56 L308.11,254.73 L308.70,254.90 L309.28,255.07 L309.87,255.24 L310.46,255.41 L311.04,255.57 L311.63,255.74 L312.22,255.91 L312.80,256.07 L313.39,256.24 L313.98,256.40 L314.57,256.57 L315.15,256.73 L315.74,256.90 L316.33,257.06 L316.91,257.22 L317.50,257.39 L318.09,257.55 L318.67,257.71 L319.26,257.87 L319.85,258.03 L320.43,258.19 L321.02,258.35 L321.61,258.51 L322.20,258.67 L322.78,258.83 L323.37,258.98 L323.96,259.14 L324.54,259.30 L325.13,259.45 L325.72,259.61 L326.30,259.76 L326.89,259.92 L327.48,260.07 L328.07,260.22 L328.65,260.38 L329.24,260.53 L329.83,260.68 L330.41,260.83 L331.00,260.98 L331.59,261.13 L332.17,261.28 L332.76,261.43 L333.35,261.58 L333.93,261.73 L334.52,261.88 L335.11,262.02 L335.70,262.17 L336.28,262.32 L336.87,262.46 L337.46,262.61 L338.04,262.75 L338.63,262.89 L339.22,263.04 L339.80,263.18 L340.39,263.32 L340.98,263.46 L341.57,263.61 L342.15,263.75 L342.74,263.89 L343.33,264.03 L343.91,264.16 L344.50,264.30 L345.09,264.44 L345.67,264.58 L346.26,264.72 L346.85,264.85 L347.43,264.99 L348.02,265.12 L348.61,265.26 L349.20,265.39 L349.78,265.53 L350.37,265.66 L350.96,265.79 L351.54,265.92 L352.13,266.05 L352.72,266.19 L353.30,266.32 L353.89,266.45 L354.48,266.57 L355.07,266.70 L355.65,266.83 L356.24,266.96 L356.83,267.09 L357.41,267.21 L358.00,267.34 L358.59,267.46 L359.17,267.59 L359.76,267.71 L360.35,267.84 L360.93,267.96 L361.52,268.08 L362.11,268.20 L362.70,268.32 L363.28,268.44 L363.87,268.56 L364.46,268.68 L365.04,268.80 L365.63,268.92 L366.22,269.04 L366.80,269.16 L367.39,269.27 L367.98,269.39 L368.57,269.50 L369.15,269.62 L369.74,269.73 L370.33,269.85 L370.91,269.96 L371.50,270.07 L372.09,270.19 L372.67,270.30 L373.26,270.41 L373.85,270.52 L374.43,270.63 L375.02,270.74 L375.61,270.84 L376.20,270.95 L376.78,271.06 L377.37,271.17 L377.96,271.27 L378.54,271.38 L379.13,271.48 L379.72,271.59 L380.30,271.69 L380.89,271.79 L381.48,271.90 L382.07,272.00 L382.65,272.10 L383.24,272.20 L383.83,272.30 L384.41,272.40 L385.00,272.50 L385.59,272.60 L386.17,272.69 L386.76,272.79 L387.35,272.89 L387.93,272.98 L388.52,273.08 L389.11,273.17 L389.70,273.27 L390.28,273.36 L390.87,273.45 L391.46,273.54 L392.04,273.64 L392.63,273.73 L393.22,273.82 L393.80,273.91 L394.39,274.00 L394.98,274.08 L395.57,274.17 L396.15,274.26 L396.74,274.34 L397.33,274.43 L397.91,274.52 L398.50,274.60" stroke="#1010e0" stroke-width="1.15"/>
<path d="M222.60,259.50 L223.19,258.46 L223.78,257.46 L224.36,256.50 L224.95,255.56 L225.54,254.66 L226.13,253.79 L226.72,252.95 L227.31,252.14 L227.89,251.36 L228.48,250.61 L229.07,249.89 L229.66,249.20 L230.25,248.53 L230.84,247.90 L231.42,247.29 L232.01,246.71 L232.60,246.16 L233.19,245.63 L233.78,245.12 L234.37,244.65 L234.95,244.19 L235.54,243.76 L236.13,243.35 L236.72,242.96 L237.31,242.60 L237.90,242.25 L238.48,241.93 L239.07,241.62 L239.66,241.34 L240.25,241.07 L240.84,240.82 L241.43,240.59 L242.01,240.38 L242.60,240.18 L243.19,240.00 L243.78,239.84 L244.37,239.69 L244.96,239.55 L245.54,239.43 L246.13,239.32 L246.72,239.22 L247.31,239.14 L247.90,239.07 L248.48,239.01 L249.07,238.96 L249.66,238.92 L250.25,238.90 L250.84,238.89 L251.43,238.88 L252.01,238.89 L252.60,238.91 L253.19,238.93 L253.78,238.97 L254.37,239.01 L254.96,239.07 L255.54,239.13 L256.13,239.20 L256.72,239.28 L257.31,239.36 L257.90,239.45 L258.49,239.55 L259.07,239.66 L259.66,239.77 L260.25,239.89 L260.84,240.01 L261.43,240.14 L262.02,240.27 L262.60,240.41 L263.19,240.55 L263.78,240.70 L264.37,240.85 L264.96,241.00 L265.55,241.16 L266.13,241.32 L266.72,241.48 L267.31,241.64 L267.90,241.81 L268.49,241.98 L269.08,242.14 L269.66,242.31 L270.25,242.48 L270.84,242.65 L271.43,242.82 L272.02,243.00 L272.61,243.17 L273.19,243.34 L273.78,243.51 L274.37,243.68 L274.96,243.86 L275.55,244.03 L276.13,244.20 L276.72,244.38 L277.31,244.55 L277.90,244.73 L278.49,244.90 L279.08,245.08 L279.66,245.25 L280.25,245.43 L280.84,245.60 L281.43,245.78 L282.02,245.96 L282.61,246.13 L283.19,246.31 L283.78,246.49 L284.37,246.66 L284.96,246.84 L285.55,247.02 L286.14,247.19 L286.72,247.37 L287.31,247.55 L287.90,247.73 L288.49,247.91 L289.08,248.08 L289.67,248.26 L290.25,248.44 L290.84,248.62 L291.43,248.80 L292.02,248.97 L292.61,249.15 L293.20,249.33 L293.78,249.51 L294.37,249.69 L294.96,249.86 L295.55,250.04 L296.14,250.22 L296.73,250.40 L297.31,250.58 L297.90,250.75 L298.49,250.93 L299.08,251.11 L299.67,251.29 L300.25,251.47 L300.84,251.64 L301.43,251.82 L302.02,252.00 L302.61,252.17 L303.20,252.35 L303.78,252.53 L304.37,252.70 L304.96,252.88 L305.55,253.06 L306.14,253.23 L306.73,253.41 L307.31,253.58 L307.90,253.76 L308.49,253.93 L309.08,254.11 L309.67,254.28 L310.26,254.45 L310.84,254.63 L311.43,254.80 L312.02,254.97 L312.61,255.14 L313.20,255.32 L313.79,255.49 L314.37,255.66 L314.96,255.83 L315.55,256.00 L316.14,256.17 L316.73,256.34 L317.32,256.51 L317.90,256.68 L318.49,256.85 L319.08,257.02 L319.67,257.19 L320.26,257.35 L320.85,257.52 L321.43,257.69 L322.02,257.86 L322.61,258.02 L323.20,258.19 L323.79,258.35 L324.37,258.52 L324.96,258.68 L325.55,258.85 L326.14,259.01 L326.73,259.17 L327.32,259.34 L327.90,259.50 L328.49,259.66 L329.08,259.82 L329.67,259.98 L330.26,260.14 L330.85,260.30 L331.43,260.46 L332.02,260.62 L332.61,260.78 L333.20,260.94 L333.79,261.10 L334.38,261.26 L334.96,261.41 L335.55,261.57 L336.14,261.72 L336.73,261.88 L337.32,262.03 L337.91,262.19 L338.49,262.34 L339.08,262.50 L339.67,262.65 L340.26,262.80 L340.85,262.95 L341.44,263.10 L342.02,263.25 L342.61,263.40 L343.20,263.55 L343.79,263.70 L344.38,263.85 L344.97,264.00 L345.55,264.15 L346.14,264.29 L346.73,264.44 L347.32,264.58 L347.91,264.73 L348.49,264.87 L349.08,265.02 L349.67,265.16 L350.26,265.30 L350.85,265.44 L351.44,265.58 L352.02,265.73 L352.61,265.87 L353.20,266.00 L353.79,266.14 L354.38,266.28 L354.97,266.42 L355.55,266.56 L356.14,266.69 L356.73,266.83 L357.32,266.96 L357.91,267.10 L358.50,267.23 L359.08,267.36 L359.67,267.49 L360.26,267.63 L360.85,267.76 L361.44,267.89 L362.03,268.02 L362.61,268.15 L363.20,268.27 L363.79,268.40 L364.38,268.53 L364.97,268.65 L365.56,268.78 L366.14,268.90 L366.73,269.03 L367.32,269.15 L367.91,269.27 L368.50,269.39 L369.09,269.51 L369.67,269.63 L370.26,269.75 L370.85,269.87 L371.44,269.99 L372.03,270.11 L372.62,270.22 L373.20,270.34 L373.79,270.45 L374.38,270.57 L374.97,270.68 L375.56,270.79 L376.14,270.90 L376.73,271.01 L377.32,271.12 L377.91,271.23 L378.50,271.34 L379.09,271.45 L379.67,271.55 L380.26,271.66 L380.85,271.76 L381.44,271.87 L382.03,271.97 L382.62,272.07 L383.20,272.18 L383.79,272.28 L384.38,272.38 L384.97,272.47 L385.56,272.57 L386.15,272.67 L386.73,272.77 L387.32,272.86 L387.91,272.96 L388.50,273.05 L389.09,273.14 L389.68,273.23 L390.26,273.32 L390.85,273.41 L391.44,273.50 L392.03,273.59 L392.62,273.68 L393.21,273.77 L393.79,273.85 L394.38,273.94 L394.97,274.02 L395.56,274.10 L396.15,274.18 L396.74,274.26 L397.32,274.34 L397.91,274.42 L398.50,274.50" stroke="#ee1010" stroke-width="1.1"/>
</g>
<line x1="316.0" y1="16.2" x2="331.8" y2="16.2" stroke="#444" stroke-width="1.1" stroke-dasharray="2,1.35"/>
<text x="339.2" y="18.60" font-size="13.85">Q=0.1</text>
<line x1="316.0" y1="41.099999999999994" x2="332.3" y2="41.099999999999994" stroke="#777" stroke-width="1.6" />
<text x="339.2" y="42.70" font-size="13.85">Q=0.1</text>
<line x1="316.0" y1="65.3" x2="331.8" y2="65.3" stroke="#2222ee" stroke-width="1.1" stroke-dasharray="2,1.35"/>
<text x="339.2" y="67.00" font-size="13.85">Q=0.3</text>
<line x1="316.0" y1="90.2" x2="332.3" y2="90.2" stroke="#8080ff" stroke-width="1.6" />
<text x="339.2" y="91.50" font-size="13.85">Q=0.3</text>
<line x1="316.0" y1="114.2" x2="331.8" y2="114.2" stroke="#ee2222" stroke-width="1.1" stroke-dasharray="2,1.35"/>
<text x="339.2" y="115.80" font-size="13.85">Q=0.5</text>
<line x1="316.0" y1="138.70000000000002" x2="332.3" y2="138.70000000000002" stroke="#ff7070" stroke-width="1.6" />
<text x="339.2" y="140.20" font-size="13.85">Q=0.5</text>
<line x1="316.0" y1="165.8" x2="332.3" y2="165.8" stroke="#77ee77" stroke-width="1.6"/>
<line x1="316.0" y1="194.5" x2="331.8" y2="194.5" stroke="#33ee44" stroke-width="1.1" stroke-dasharray="2,1.35"/>
<text x="339.3" y="168.1" font-size="13.85" textLength="43.2" lengthAdjust="spacingAndGlyphs">(1/b<tspan font-size="10.0" dy="1.7">c</tspan><tspan font-size="6.9" dy="1.6">1</tspan><tspan font-size="13.85" dy="-3.3">)</tspan><tspan font-size="10.0" dy="-6.2">2</tspan></text>
<text x="339.3" y="196.0" font-size="13.85" textLength="52.3" lengthAdjust="spacingAndGlyphs">(1/Zb<tspan font-size="10.0" dy="1.7">c</tspan><tspan font-size="6.9" dy="1.6">2</tspan><tspan font-size="13.85" dy="-3.3">)</tspan><tspan font-size="10.0" dy="-6.2">2</tspan></text>
<text x="233" y="150.3" font-size="13.6" textLength="51.4" lengthAdjust="spacingAndGlyphs" class="an"><tspan class="it">b</tspan><tspan font-size="9.5" dy="2.5">1</tspan><tspan dy="-2.5"> &lt; Z</tspan><tspan class="it">b</tspan><tspan class="it" font-size="9.5" dy="2.5">c</tspan><tspan font-size="6.7" dy="1.6">2</tspan></text>
<text x="227.3" y="217.6" font-size="13.6" textLength="82.4" lengthAdjust="spacingAndGlyphs" class="an">Zb<tspan class="it" font-size="9.5" dy="2.5">c</tspan><tspan font-size="6.7" dy="1.6">2</tspan><tspan dy="-4.1"> &lt; </tspan><tspan class="it">b</tspan><tspan font-size="9.5" dy="2.5">1</tspan><tspan dy="-2.5"> &lt; </tspan><tspan class="it">b</tspan><tspan class="it" font-size="9.5" dy="2.5">c</tspan><tspan font-size="6.7" dy="1.6">1</tspan></text>
<text x="235.5" y="297.5" font-size="15.9" textLength="50.4" lengthAdjust="spacingAndGlyphs" class="an"><tspan class="it">b</tspan><tspan font-size="10.9" dy="3.1">1</tspan><tspan dy="-3.1"> &gt; </tspan><tspan class="it">b</tspan><tspan class="it" font-size="10.9" dy="3.4">c</tspan><tspan font-size="7.4" dy="2.3">1</tspan></text>
<text x="219" y="383.7" font-size="14.2" class="it">r<tspan font-size="10" dy="2.4">i</tspan></text>
<text transform="translate(11.6,189.4) rotate(-90)" font-size="13.9" class="it">V<tspan font-size="10" dy="2.4">i</tspan><tspan dy="-2.4" font-style="normal">(</tspan>r<tspan font-size="10" dy="2.4">i</tspan><tspan dy="-2.4" font-style="normal">)</tspan></text>
</svg></body></html>
